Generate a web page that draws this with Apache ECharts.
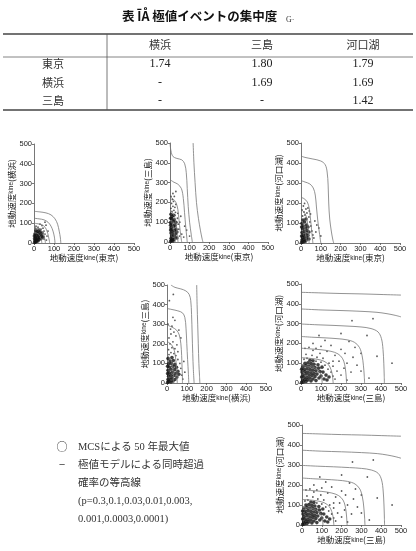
<!DOCTYPE html>
<html><head><meta charset="utf-8">
<script src="https://cdn.jsdelivr.net/npm/echarts@6/dist/echarts.min.js"></script>
<style>html,body{margin:0;padding:0;background:#fff}#c{width:416px;height:551px}</style>
</head><body><div id="c"></div>
<script>
// ---------- table data ----------
const tableTitle = '表 ĪÅ 極値イベントの集中度';
const tableTitleSub = 'G·';
const tableCols = ['横浜', '三島', '河口湖'];
const tableRows = ['東京', '横浜', '三島'];
const tableValues = [['1.74', '1.80', '1.79'], ['-', '1.69', '1.69'], ['-', '-', '1.42']];

// ---------- axis ticks ----------
const tickValues = [0, 100, 200, 300, 400, 500];

// ---------- legend text ----------
const legendLines = [
  ['○', 'MCSによる 50 年最大値'],
  ['−', '極値モデルによる同時超過'],
  ['', '確率の等高線'],
  ['', '(p=0.3,0.1,0.03,0.01,0.003,'],
  ['', '0.001,0.0003,0.0001)']
];

// ---------- panel 1: 東京 vs 横浜 ----------
const contoursTokyoYokohama = [
  [[0,160],[30,157],[60,152],[85,142],[105,122],[118,95],[126,60],[132,25],[134,0]],
  [[0,125],[25,122],[50,117],[70,105],[85,85],[95,60],[102,30],[105,0]],
  [[0,100],[20,97],[40,92],[55,80],[65,60],[72,35],[77,10],[78,0]],
  [[0,75],[20,72],[35,65],[45,50],[52,30],[56,10],[57,0]],
  [[0,52],[15,49],[27,40],[34,25],[38,8],[39,0]]
];
const coreTokyoYokohama = [[3,3],[8,5],[12,8],[5,12],[15,15],[10,20],[20,10],[25,18],[18,25],[8,30],[28,28],[22,35],[12,40],[30,40],[35,22],[5,45],[20,48],[15,55],[38,35],[30,55],[10,62],[25,65],[40,50],[45,30],[3,22],[2,35]];
const haloTokyoYokohama = [[50,60],[45,75],[20,80],[35,70],[55,45],[60,90],[10,85],[50,20],[65,35],[30,95],[55,105],[70,60],[40,88],[8,75],[62,15]];

// ---------- panel 2: 東京 vs 三島 ----------
const contoursTokyoMishima = [
  [[118,500],[122,400],[128,300],[135,200],[145,120],[155,60],[163,20],[168,0]],
  [[0,500],[5,460],[15,432],[35,422],[60,415],[75,395],[83,350],[88,270],[93,180],[100,100],[108,40],[114,0]],
  [[0,315],[20,302],[40,292],[58,270],[68,220],[74,150],[80,80],[86,20],[88,0]],
  [[0,228],[15,218],[30,200],[40,165],[46,110],[52,55],[58,10],[60,0]],
  [[0,160],[12,150],[24,125],[32,85],[37,40],[41,0]],
  [[0,110],[10,98],[18,70],[24,35],[27,0]]
];
const coreTokyoMishima = [[3,3],[8,8],[15,5],[5,18],[12,15],[20,12],[25,25],[8,30],[18,35],[28,40],[5,45],[15,50],[22,58],[10,62],[30,65],[5,72],[18,78],[25,85],[10,90],[3,98],[15,105],[22,112],[8,118],[30,100],[12,130],[5,140],[20,135],[35,50],[35,20],[3,60],[3,85],[3,120]];
const haloTokyoMishima = [[10,155],[20,160],[5,170],[15,180],[25,175],[8,195],[18,205],[12,215],[22,230],[28,150],[38,120],[42,90],[45,65],[50,100],[60,40],[75,80],[85,60],[100,30],[30,255],[15,245],[40,145],[55,130],[5,230],[30,190],[70,25],[48,30]];

// ---------- panel 3: 東京 vs 河口湖 ----------
const contoursTokyoKawaguchiko = [
  [[0,435],[20,428],[60,420],[100,410],[122,392],[132,355],[137,290],[140,200],[145,120],[153,60],[160,20],[165,0]],
  [[0,312],[20,305],[45,295],[62,275],[72,240],[78,180],[85,110],[93,50],[100,0]],
  [[0,228],[15,222],[32,205],[42,170],[48,120],[54,60],[60,0]],
  [[0,165],[12,158],[24,140],[32,105],[37,60],[41,0]],
  [[0,112],[8,104],[16,88],[22,60],[26,25],[28,0]]
];
const coreTokyoKawaguchiko = [[3,3],[10,5],[18,8],[5,15],[14,18],[25,12],[8,28],[20,30],[30,25],[12,40],[25,45],[5,52],[35,38],[18,58],[30,62],[8,70],[22,75],[40,55],[12,85],[28,90],[5,98],[18,105],[35,80],[10,115],[25,120],[3,35],[3,80],[40,20]];
const haloTokyoKawaguchiko = [[8,135],[20,140],[15,155],[30,150],[5,165],[25,170],[12,185],[40,130],[45,105],[50,85],[55,60],[60,40],[70,110],[80,90],[65,25],[90,75],[35,175],[18,198],[48,145],[75,55],[100,35],[42,160]];

// ---------- panel 4: 横浜 vs 三島 ----------
const contoursYokohamaMishima = [
  [[150,500],[152,400],[155,300],[158,200],[161,100],[164,40],[166,0]],
  [[20,500],[40,488],[70,480],[95,470],[112,452],[120,420],[124,350],[127,250],[130,150],[133,70],[137,0]],
  [[0,380],[25,375],[55,368],[78,358],[90,335],[96,280],[100,200],[104,120],[108,50],[110,0]],
  [[0,296],[25,285],[48,270],[62,245],[70,200],[74,140],[76,80],[78,20],[78,0]],
  [[0,212],[18,200],[32,180],[40,150],[46,105],[50,55],[52,0]],
  [[0,140],[15,128],[25,105],[30,70],[33,30],[34,0]]
];
const coreYokohamaMishima = [[3,3],[10,8],[20,5],[30,10],[5,18],[15,20],[25,25],[40,18],[8,35],[20,40],[35,38],[50,30],[12,52],[28,55],[45,50],[5,65],[20,70],[38,68],[55,60],[12,82],[30,85],[48,80],[8,98],[22,100],[40,95],[15,112],[32,115],[5,125],[25,130],[60,45],[3,48],[3,85]];
const haloYokohamaMishima = [[10,145],[20,155],[35,150],[45,140],[55,120],[65,100],[70,75],[75,40],[80,20],[8,170],[25,180],[40,175],[15,200],[30,210],[50,195],[10,230],[20,250],[35,260],[60,270],[45,240],[25,290],[70,230],[5,300],[12,420],[32,452],[85,110],[55,160],[40,320],[30,335],[90,55],[18,275]];

// ---------- panels 5 & 6: 三島 vs 河口湖 ----------
const contoursMishimaKawaguchiko = [
  [[0,458],[100,455],[200,452],[300,450],[400,447],[500,444]],
  [[0,374],[100,369],[200,366],[300,362],[380,357],[430,350],[470,342],[500,334]],
  [[0,298],[80,294],[160,291],[240,287],[300,283],[350,275],[385,258],[402,225],[410,170],[414,100],[416,40],[417,0]],
  [[0,235],[60,231],[120,228],[180,224],[230,218],[268,205],[292,180],[305,140],[312,90],[316,40],[318,0]],
  [[0,176],[50,172],[100,168],[150,160],[185,147],[207,125],[218,95],[224,55],[227,15],[228,0]],
  [[0,128],[40,125],[80,120],[115,110],[138,92],[150,68],[157,40],[160,10],[161,0]],
  [[0,88],[30,85],[60,80],[82,68],[96,50],[103,28],[106,0]]
];
const coreMishimaKawaguchiko = [[3,3],[12,5],[25,8],[8,15],[20,18],[35,15],[50,10],[15,30],[30,28],[45,25],[60,20],[75,12],[10,42],[25,45],[40,40],[55,38],[70,32],[90,25],[5,55],[20,58],[35,55],[50,52],[65,48],[80,45],[100,35],[115,20],[15,70],[30,72],[45,68],[60,65],[75,62],[95,58],[10,85],[25,88],[40,85],[55,82],[70,78],[88,75],[110,55],[125,40],[20,100],[35,102],[50,98],[65,95],[85,92],[45,115],[60,112],[3,30],[3,70],[130,15],[140,30],[105,80]];
const haloMishimaKawaguchiko = [[15,120],[30,125],[75,110],[100,105],[120,90],[135,70],[150,55],[160,35],[170,20],[80,130],[110,125],[140,100],[55,140],[25,145],[95,150],[160,85],[180,60],[200,40],[190,110],[215,75],[230,100],[250,55],[280,90],[300,150],[260,130],[220,150],[170,140],[130,160],[60,165],[40,180],[100,185],[150,190],[200,250],[255,315],[330,240],[360,325],[240,210],[455,100],[380,135],[300,60],[200,170],[120,215],[90,240],[60,200],[20,175],[75,175],[340,25],[230,15],[160,110],[270,180]];

// ---------- panel layout ----------
const panels = [
  {xs:'東京', ys:'横浜', c:contoursTokyoYokohama, core:coreTokyoYokohama, halo:haloTokyoYokohama, g:{left:34, top:144, width:100, height:99}},
  {xs:'東京', ys:'三島', c:contoursTokyoMishima, core:coreTokyoMishima, halo:haloTokyoMishima, g:{left:170, top:143, width:98, height:99}},
  {xs:'東京', ys:'河口湖', c:contoursTokyoKawaguchiko, core:coreTokyoKawaguchiko, halo:haloTokyoKawaguchiko, g:{left:301, top:143, width:99, height:100}},
  {xs:'横浜', ys:'三島', c:contoursYokohamaMishima, core:coreYokohamaMishima, halo:haloYokohamaMishima, g:{left:167, top:285, width:99, height:98}},
  {xs:'三島', ys:'河口湖', c:contoursMishimaKawaguchiko, core:coreMishimaKawaguchiko, halo:haloMishimaKawaguchiko, g:{left:301, top:284, width:100, height:99}},
  {xs:'三島', ys:'河口湖', c:contoursMishimaKawaguchiko, core:coreMishimaKawaguchiko, halo:haloMishimaKawaguchiko, g:{left:302, top:425, width:99, height:100}}
];

const AX = '#555', TXT = '#222';
const sans = '"Liberation Sans", Arial, sans-serif';
const cjk = '"Liberation Serif", "Noto Sans CJK JP", serif';
const nameRich = {
  a: {fontSize: 8.5, fontFamily: '"Noto Sans CJK JP", sans-serif', color: TXT},
  b: {fontSize: 6.5, fontFamily: sans, color: TXT}
};
function axisName(s) { return '{a|地動速度}{b|kine}{a|(' + s + ')}'; }

const grid = [], xAxis = [], yAxis = [], series = [];
panels.forEach((p, i) => {
  grid.push(Object.assign({containLabel: false}, p.g));
  const common = {
    type: 'value', min: tickValues[0], max: tickValues[tickValues.length - 1],
    interval: tickValues[1] - tickValues[0], gridIndex: i,
    axisLine: {show: true, lineStyle: {color: AX, width: 0.8}},
    axisTick: {show: true, length: 2, lineStyle: {color: AX, width: 0.8}},
    splitLine: {show: false},
    axisLabel: {fontSize: 7.5, color: TXT, fontFamily: sans, margin: 2},
    nameLocation: 'middle',
    nameTextStyle: {rich: nameRich}
  };
  xAxis.push(Object.assign({}, common, {name: axisName(p.xs), nameGap: 11}));
  yAxis.push(Object.assign({}, common, {name: axisName(p.ys), nameGap: 15, nameRotate: 90}));
  p.c.forEach(curve => {
    series.push({type: 'line', xAxisIndex: i, yAxisIndex: i, data: curve, showSymbol: false,
      smooth: 0.35, silent: true, clip: true,
      lineStyle: {color: '#777', width: 0.8}});
  });
  series.push({type: 'scatter', xAxisIndex: i, yAxisIndex: i, data: p.halo, symbol: 'circle',
    symbolSize: 1.8, itemStyle: {color: '#333'}, silent: true});
  series.push({type: 'scatter', xAxisIndex: i, yAxisIndex: i, data: p.core, symbol: 'circle',
    symbolSize: 3.6, itemStyle: {color: '#111'}, silent: true});
});

// ---------- table + legend graphics ----------
const graphic = [];
const colX = [160, 262, 363], rowLabelX = 53, rowY = [64, 83, 101];
graphic.push({type: 'text', x: 122, y: 10, style: {
  text: tableTitle, font: 'bold 12.5px "Noto Sans CJK JP", sans-serif', fill: '#111'}});
graphic.push({type: 'text', x: 286, y: 16, style: {text: tableTitleSub, font: '8px ' + cjk, fill: '#333'}});
graphic.push({type: 'line', shape: {x1: 3, y1: 34, x2: 413, y2: 34}, style: {stroke: '#444', lineWidth: 1.5}});
graphic.push({type: 'line', shape: {x1: 3, y1: 57, x2: 413, y2: 57}, style: {stroke: '#666', lineWidth: 0.8}});
graphic.push({type: 'line', shape: {x1: 3, y1: 110, x2: 413, y2: 110}, style: {stroke: '#444', lineWidth: 1.5}});
graphic.push({type: 'line', shape: {x1: 107, y1: 34, x2: 107, y2: 110}, style: {stroke: '#555', lineWidth: 0.8}});
tableCols.forEach((c, j) => graphic.push({type: 'text', x: colX[j], y: 45, style: {
  text: c, font: '11px "Noto Sans CJK JP", sans-serif', fill: '#333', align: 'center', verticalAlign: 'middle'}}));
tableRows.forEach((r, k) => {
  graphic.push({type: 'text', x: rowLabelX, y: rowY[k], style: {
    text: r, font: '11px "Noto Sans CJK JP", sans-serif', fill: '#333', align: 'center', verticalAlign: 'middle'}});
  tableValues[k].forEach((v, j) => graphic.push({type: 'text', x: colX[j], y: rowY[k], style: {
    text: v, font: '12px "Liberation Serif", serif', fill: '#222', align: 'center', verticalAlign: 'middle'}}));
});
const legY = [447, 465, 483, 501, 519];
legendLines.forEach((ln, k) => {
  if (ln[0]) graphic.push({type: 'text', x: 62, y: legY[k], style: {
    text: ln[0], font: '11px "Noto Sans CJK JP", sans-serif', fill: '#333', align: 'center', verticalAlign: 'middle'}});
  graphic.push({type: 'text', x: 78, y: legY[k], style: {
    text: ln[1], font: '10.5px ' + cjk, fill: '#333', verticalAlign: 'middle'}});
});

const chart = echarts.init(document.getElementById('c'), null, {renderer: 'canvas'});
chart.setOption({animation: false, backgroundColor: '#fff', grid, xAxis, yAxis, series, graphic});
</script></body></html>
